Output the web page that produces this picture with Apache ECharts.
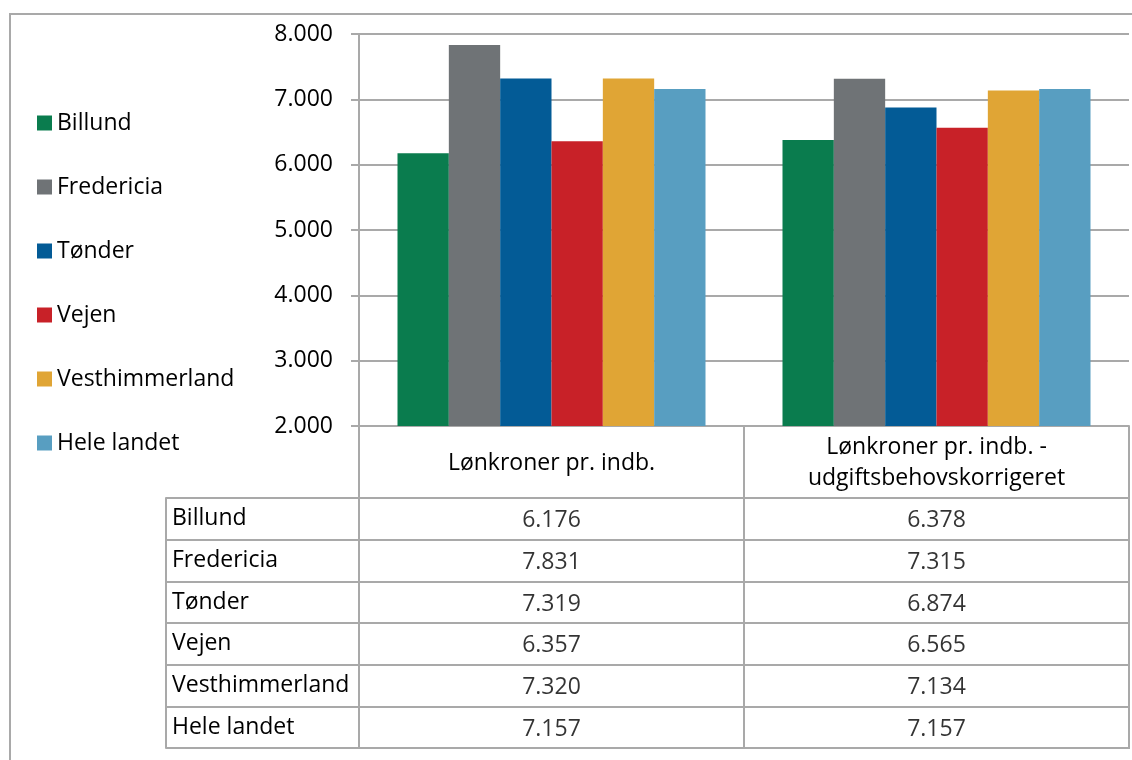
<!DOCTYPE html>
<html>
<head>
<meta charset="utf-8">
<script src="https://cdn.jsdelivr.net/npm/echarts@6/dist/echarts.min.js"></script>
<style>
  html, body { margin: 0; padding: 0; background: #fff; }
  #chart { width: 1132px; height: 760px; }
</style>
</head>
<body>
<div id="chart"></div>
<script>
// categories (header cells) and row names
const categories = ['Lønkroner pr. indb.', 'Lønkroner pr. indb. -\nudgiftsbehovskorrigeret'];
const municipalities = ['Billund', 'Fredericia', 'Tønder', 'Vejen', 'Vesthimmerland', 'Hele landet'];

// values per municipality
const billund = [6176, 6378];
const fredericia = [7831, 7315];
const toender = [7319, 6874];
const vejen = [6357, 6565];
const vesthimmerland = [7320, 7134];
const heleLandet = [7157, 7157];

const yTicks = [2000, 3000, 4000, 5000, 6000, 7000, 8000];

const seriesValues = [billund, fredericia, toender, vejen, vesthimmerland, heleLandet];
const colors = ['#0a7c4e', '#6f7376', '#035b96', '#c82128', '#e0a535', '#589ec1'];

const lineColor = '#a9a9a9';
const font = '"Open Sans", "Noto Sans", sans-serif';
const fmt = v => String(v).replace(/\B(?=(\d{3})+(?!\d))/g, '.');

const chart = echarts.init(document.getElementById('chart'));

const barSeries = municipalities.map((name, i) => ({
  name: name,
  type: 'bar',
  xAxisIndex: 0,
  yAxisIndex: 0,
  data: seriesValues[i],
  barGap: 0,
  barCategoryGap: '20%',
  itemStyle: { color: colors[i] }
}));

// table cells: one label per (category, row)
const cellData = [];
municipalities.forEach((name, r) => {
  categories.forEach((c, ci) => {
    cellData.push([ci, r, seriesValues[r][ci]]);
  });
});

const option = {
  animation: false,
  textStyle: { fontFamily: font },
  graphic: [{
    type: 'rect',
    z: -1,
    shape: { x: 10, y: 14, width: 1140, height: 800 },
    style: { fill: 'none', stroke: lineColor, lineWidth: 2 }
  }],
  legend: {
    orient: 'vertical',
    left: 37,
    top: 111,
    padding: 0,
    itemWidth: 15,
    itemHeight: 15,
    itemGap: 40,
    icon: 'rect',
    data: municipalities,
    textStyle: { fontSize: 23, lineHeight: 24, color: '#000', fontFamily: font }
  },
  grid: [
    { left: 359, top: 34, width: 770, height: 392 },
    { left: 359, top: 498, width: 770, height: 250, show: true, borderColor: lineColor, borderWidth: 2 }
  ],
  xAxis: [{
    gridIndex: 0,
    type: 'category',
    data: categories,
    axisLine: { show: true, lineStyle: { color: lineColor, width: 2 } },
    axisTick: { show: true, length: 72, interval: 0, lineStyle: { color: lineColor, width: 2 } },
    axisLabel: {
      interval: 0, margin: 37, verticalAlign: 'middle',
      fontSize: 23, lineHeight: 31, color: '#000', fontFamily: font
    }
  }, {
    gridIndex: 1,
    type: 'category',
    data: categories,
    position: 'top',
    axisLine: { show: false },
    axisTick: { show: false },
    axisLabel: { show: false },
    splitLine: { show: true, lineStyle: { color: lineColor, width: 2 } }
  }],
  yAxis: [{
    gridIndex: 0,
    type: 'value',
    min: 2000,
    max: 8000,
    interval: 1000,
    axisLine: { show: true, lineStyle: { color: lineColor, width: 2 } },
    axisTick: { show: true, length: 8, lineStyle: { color: lineColor, width: 2 } },
    splitLine: { show: true, lineStyle: { color: lineColor, width: 2 } },
    axisLabel: {
      margin: 26, fontSize: 23, color: '#000', fontFamily: font, padding: [3, 0, 0, 0],
      formatter: v => yTicks.includes(v) ? fmt(v) : ''
    }
  }, {
    gridIndex: 1,
    type: 'category',
    inverse: true,
    data: municipalities,
    axisLine: { show: true, lineStyle: { color: lineColor, width: 2 } },
    axisTick: { show: true, length: 193, interval: 0, lineStyle: { color: lineColor, width: 2 } },
    splitLine: { show: true, lineStyle: { color: lineColor, width: 2 } },
    axisLabel: {
      interval: 0, margin: 187, align: 'left', fontSize: 23, color: '#000',
      fontFamily: font, padding: [3, 0, 0, 0]
    }
  }, {
    gridIndex: 1,
    type: 'category',
    inverse: true,
    data: municipalities,
    position: 'left',
    offset: 193,
    axisLine: { show: true, lineStyle: { color: lineColor, width: 2 } },
    axisTick: { show: false },
    axisLabel: { show: false }
  }],
  series: barSeries.concat([{
    type: 'scatter',
    xAxisIndex: 1,
    yAxisIndex: 1,
    symbolSize: 0,
    silent: true,
    data: cellData,
    label: {
      show: true,
      position: 'inside',
      offset: [0, 2],
      fontSize: 23,
      color: '#000',
      fontFamily: font,
      formatter: p => fmt(p.value[2])
    }
  }])
};

chart.setOption(option);
</script>
</body>
</html>
